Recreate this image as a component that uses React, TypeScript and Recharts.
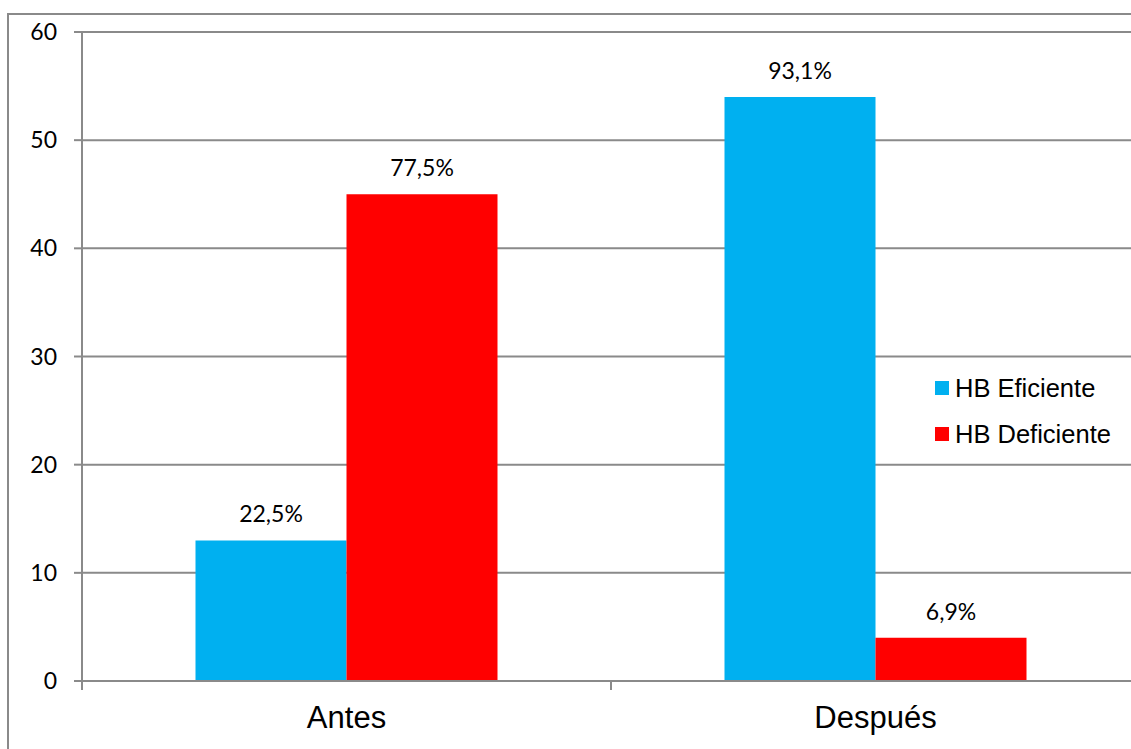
import React from 'react'
import {
    BarChart, Bar, XAxis, YAxis, CartesianGrid, Legend, LabelList,
} from 'recharts'

const CATEGORIES = ['Antes', 'Después']
const SERIES = ['HB Eficiente', 'HB Deficiente']
const EFICIENTE = [13, 54]
const DEFICIENTE = [45, 4]
const EFICIENTE_LABELS = ['22,5%', '93,1%']
const DEFICIENTE_LABELS = ['77,5%', '6,9%']
const Y_TICKS = [0, 10, 20, 30, 40, 50, 60]

const BLUE = '#00B0F0'
const RED = '#FF0000'
const GRAY = '#8a8a8a'
const NUM_FONT = 'Lato, "Open Sans", sans-serif'
const TXT_FONT = '"Liberation Sans", Arial, sans-serif'
const LABEL_GAP = 25
const TICK_LEN = 9

const data = CATEGORIES.map((cat, i) => ({
    cat,
    ef: EFICIENTE[i],
    def: DEFICIENTE[i],
    efLabel: EFICIENTE_LABELS[i],
    defLabel: DEFICIENTE_LABELS[i],
}))

function LegendBox({ payload }: any) {
    const items = [...(payload || [])].sort((a: any, b: any) => SERIES.indexOf(a.value) - SERIES.indexOf(b.value))
    return (
        <div style={{ fontFamily: TXT_FONT, fontSize: 25.5, color: '#000' }}>
            {items.map((p: any) => (
                <div key={p.value} style={{ display: 'flex', alignItems: 'center', height: 46 }}>
                    <span style={{ width: 14, height: 14, background: p.color, marginRight: 6, display: 'inline-block' }} />
                    <span>{p.value}</span>
                </div>
            ))}
        </div>
    )
}

// category label plus tick marks on the band edges (Excel style)
function CatTick({ x, y, payload }: any) {
    const half = payload?.offset ?? 0
    const axisY = y - LABEL_GAP
    return (
        <g>
            <line x1={x - half} x2={x - half} y1={axisY} y2={axisY + TICK_LEN} stroke={GRAY} strokeWidth={2} />
            <line x1={x + half} x2={x + half} y1={axisY} y2={axisY + TICK_LEN} stroke={GRAY} strokeWidth={2} />
            <text x={x} y={y} dy="0.71em" textAnchor="middle" fontFamily={TXT_FONT} fontSize={31} fill="#000">
                {payload.value}
            </text>
        </g>
    )
}

export default function App() {
    return (
        <div style={{ position: 'absolute', left: 0, top: 0, width: 1131, height: 749, overflow: 'hidden', background: '#fff' }}>
            <div style={{ position: 'absolute', left: 7, top: 13, width: 1300, height: 900, border: `2px solid ${GRAY}` }} />
            <div style={{ position: 'absolute', left: 0, top: 0 }}>
                <BarChart
                    width={1160}
                    height={749}
                    data={data}
                    margin={{ top: 32, right: 20, left: 0, bottom: 0 }}
                    barCategoryGap={113.5}
                    barGap={0}
                >
                    <CartesianGrid vertical={false} stroke={GRAY} strokeWidth={2} />
                    <XAxis
                        dataKey="cat"
                        height={68}
                        tickLine={false}
                        tickSize={0}
                        tickMargin={LABEL_GAP}
                        axisLine={{ stroke: GRAY, strokeWidth: 2 }}
                        tick={<CatTick />}
                    />
                    <YAxis
                        width={82}
                        domain={[0, 60]}
                        ticks={Y_TICKS}
                        interval={0}
                        tickSize={8}
                        tickMargin={17}
                        axisLine={{ stroke: GRAY, strokeWidth: 2 }}
                        tickLine={{ stroke: GRAY, strokeWidth: 2 }}
                        tick={{ fontFamily: NUM_FONT, fontSize: 23, fill: '#000' }}
                    />
                    <Legend
                        layout="horizontal"
                        align="center"
                        verticalAlign="middle"
                        content={<LegendBox />}
                        wrapperStyle={{ position: 'absolute', left: 935, top: 365, width: 'auto' }}
                    />
                    <Bar dataKey="ef" name={SERIES[0]} fill={BLUE} isAnimationActive={false}>
                        <LabelList dataKey="efLabel" position="top" offset={18} style={{ fontFamily: NUM_FONT, fontSize: 23, fill: '#000' }} />
                    </Bar>
                    <Bar dataKey="def" name={SERIES[1]} fill={RED} isAnimationActive={false}>
                        <LabelList dataKey="defLabel" position="top" offset={18} style={{ fontFamily: NUM_FONT, fontSize: 23, fill: '#000' }} />
                    </Bar>
                </BarChart>
            </div>
        </div>
    )
}
